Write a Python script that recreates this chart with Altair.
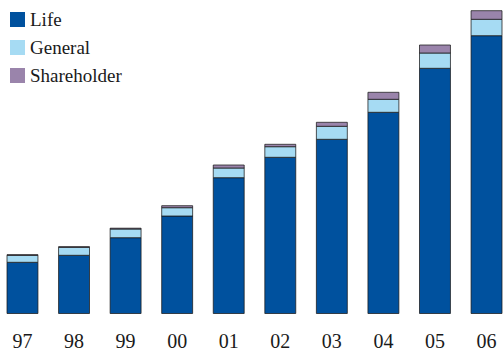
import altair as alt
import pandas as pd

years = ["97", "98", "99", "00", "01", "02", "03", "04", "05", "06"]
series = ["Life", "General", "Shareholder"]
colors = ["#00519e", "#a6dbf3", "#9a84ab"]

life = [51.2, 58.2, 75.8, 97.5, 135.8, 156.2, 174.2, 201.2, 245.2, 277.8]
general = [7.0, 8.0, 8.7, 8.3, 9.7, 10.6, 13.0, 13.0, 15.3, 16.4]
shareholder = [0.6, 0.6, 0.8, 2.0, 3.0, 2.4, 4.0, 7.0, 8.0, 8.6]

rows = []
for i, y in enumerate(years):
    for k, (name, vals) in enumerate(zip(series, [life, general, shareholder])):
        rows.append({"year": y, "series": name, "value": vals[i], "idx": k})
df = pd.DataFrame(rows)

FONT = "'Liberation Serif', 'Times New Roman', serif"

chart = (
    alt.Chart(df)
    .mark_bar(stroke="#1a1a1a", strokeWidth=1, strokeOpacity=0.75)
    .encode(
        x=alt.X(
            "year:N",
            sort=years,
            scale=alt.Scale(paddingInner=0.4, paddingOuter=0),
            axis=alt.Axis(
                title=None,
                domain=False,
                ticks=False,
                labelAngle=0,
                labelFont=FONT,
                labelFontSize=20,
                labelColor="#1a1a1a",
                labelPadding=18,
            ),
        ),
        y=alt.Y(
            "value:Q",
            stack="zero",
            scale=alt.Scale(domain=[0, 313.5], nice=False, zero=True),
            axis=None,
        ),
        color=alt.Color(
            "series:N",
            sort=series,
            scale=alt.Scale(domain=series, range=colors),
            legend=alt.Legend(
                title=None,
                orient="none",
                legendX=1,
                legendY=10,
                symbolType="square",
                symbolSize=225,
                symbolStrokeWidth=0,
                labelFont=FONT,
                labelFontSize=19,
                labelColor="#1a1a1a",
                labelOffset=3,
                rowPadding=8,
                padding=0,
            ),
        ),
        order=alt.Order("idx:Q", sort="ascending"),
    )
    .properties(
        width=495,
        height=313.5,
        padding={"left": 7, "top": 0, "right": 1, "bottom": 39.5},
        autosize=alt.AutoSizeParams(type="none"),
    )
    .configure_view(stroke=None)
)

chart.save("out.html", embed_options={"renderer": "svg", "actions": False})
